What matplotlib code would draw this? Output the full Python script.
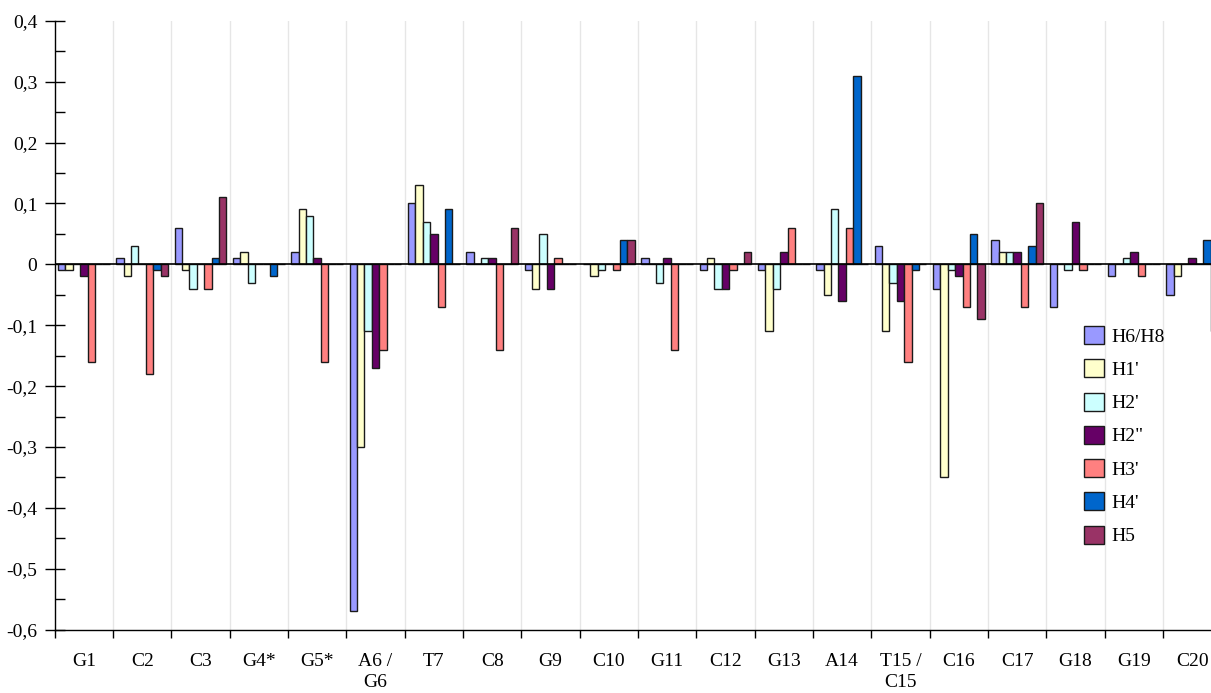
import matplotlib
matplotlib.use("Agg")
import matplotlib.pyplot as plt
import numpy as np
from matplotlib.patches import Patch
from matplotlib.ticker import FixedLocator, FuncFormatter

plt.rcParams['font.family'] = ['Liberation Serif', 'DejaVu Serif']

categories = ["G1", "C2", "C3", "G4*", "G5*", "A6 /\nG6", "T7", "C8", "G9", "C10",
              "G11", "C12", "G13", "A14", "T15 /\nC15", "C16", "C17", "G18", "G19", "C20"]

series_names = ["H6/H8", "H1'", "H2'", "H2\"", "H3'", "H4'", "H5"]

h6h8 = [-0.01, 0.01, 0.06, 0.01, 0.02, -0.57, 0.10, 0.02, -0.01, 0.0,
        0.01, -0.01, -0.01, -0.01, 0.03, -0.04, 0.04, -0.07, -0.02, -0.05]
h1p = [-0.01, -0.02, -0.01, 0.02, 0.09, -0.30, 0.13, 0.0, -0.04, -0.02,
       0.0, 0.01, -0.11, -0.05, -0.11, -0.35, 0.02, 0.0, 0.0, -0.02]
h2p = [0.0, 0.03, -0.04, -0.03, 0.08, -0.11, 0.07, 0.01, 0.05, -0.01,
       -0.03, -0.04, -0.04, 0.09, -0.03, -0.01, 0.02, -0.01, 0.01, 0.0]
h2pp = [-0.02, 0.0, 0.0, 0.0, 0.01, -0.17, 0.05, 0.01, -0.04, 0.0,
        0.01, -0.04, 0.02, -0.06, -0.06, -0.02, 0.02, 0.07, 0.02, 0.01]
h3p = [-0.16, -0.18, -0.04, 0.0, -0.16, -0.14, -0.07, -0.14, 0.01, -0.01,
       -0.14, -0.01, 0.06, 0.06, -0.16, -0.07, -0.07, -0.01, -0.02, 0.0]
h4p = [0.0, -0.01, 0.01, -0.02, 0.0, 0.0, 0.09, 0.0, 0.0, 0.04,
       0.0, 0.0, 0.0, 0.31, -0.01, 0.05, 0.03, 0.0, 0.0, 0.04]
h5 = [0.0, -0.02, 0.11, 0.0, 0.0, 0.0, 0.0, 0.06, 0.0, 0.04,
      0.0, 0.02, 0.0, 0.0, 0.0, -0.09, 0.10, 0.0, 0.0, -0.11]

series = [h6h8, h1p, h2p, h2pp, h3p, h4p, h5]
colors = ["#9999FF", "#FFFFCC", "#CCFFFF", "#660066", "#FF8080", "#0066CC", "#993366"]

yticks = [0.4, 0.3, 0.2, 0.1, 0.0, -0.1, -0.2, -0.3, -0.4, -0.5, -0.6]

FS = 14
W, H = 1211, 693
fig = plt.figure(figsize=(W / 100, H / 100), dpi=100)
ax = fig.add_axes([54.7 / W, 1 - 629.7 / H, 1166.6 / W, (629.7 - 20.7) / H])

n = len(categories)
k = len(series)
total = 0.89
bw = total / k
x = np.arange(n) + 0.5
for j, (vals, col) in enumerate(zip(series, colors)):
    offs = -total / 2 + bw * (j + 0.5)
    ax.bar(x + offs, vals, width=bw, color=col, edgecolor="#1a1a1a",
           linewidth=1.0, zorder=3)

ax.set_xlim(0, n)
ax.set_ylim(-0.6, 0.4)

# vertical gridlines at group boundaries
for b in range(1, n + 1):
    ax.axvline(b, color="#e6e6e6", linewidth=1.0, zorder=1)
ax.axhline(0, color="black", linewidth=1.2, zorder=4)

for s in ["top", "right"]:
    ax.spines[s].set_visible(False)
ax.spines["left"].set_linewidth(1.0)
ax.spines["bottom"].set_linewidth(1.0)

# y ticks
ax.yaxis.set_major_locator(FixedLocator(yticks))
ax.yaxis.set_minor_locator(FixedLocator([v + 0.05 for v in yticks[1:]]))
ax.yaxis.set_major_formatter(FuncFormatter(
    lambda v, p: "0" if abs(v) < 1e-9 else ("%.1f" % v).replace(".", ",")))
ax.tick_params(axis="y", which="major", direction="inout", length=15, width=1.0,
               labelsize=FS, pad=5)
ax.tick_params(axis="y", which="minor", direction="in", length=7, width=1.0)

# x ticks: boundaries as major ticks, labels at centers as minor ticks
ax.xaxis.set_major_locator(FixedLocator(list(range(0, n + 1))))
ax.xaxis.set_major_formatter(FuncFormatter(lambda v, p: ""))
ax.xaxis.set_minor_locator(FixedLocator(list(x)))
ax.set_xticklabels(categories, minor=True)
ax.tick_params(axis="x", which="major", direction="out", length=6, width=1.0)
ax.tick_params(axis="x", which="minor", length=0, labelsize=FS, pad=17)
for lab in ax.get_xticklabels(minor=True):
    lab.set_verticalalignment("top")
    lab.set_linespacing(1.25)

handles = [Patch(facecolor=c, edgecolor="#1a1a1a", linewidth=1.0) for c in colors]
fig.legend(handles, series_names, loc="upper left",
           bbox_to_anchor=(1084 / W, 1 - 326 / H), frameon=False, fontsize=FS,
           handlelength=1.05, handleheight=1.05, labelspacing=0.7,
           handletextpad=0.35, borderpad=0, borderaxespad=0)

fig.savefig("out.png", dpi=100)
